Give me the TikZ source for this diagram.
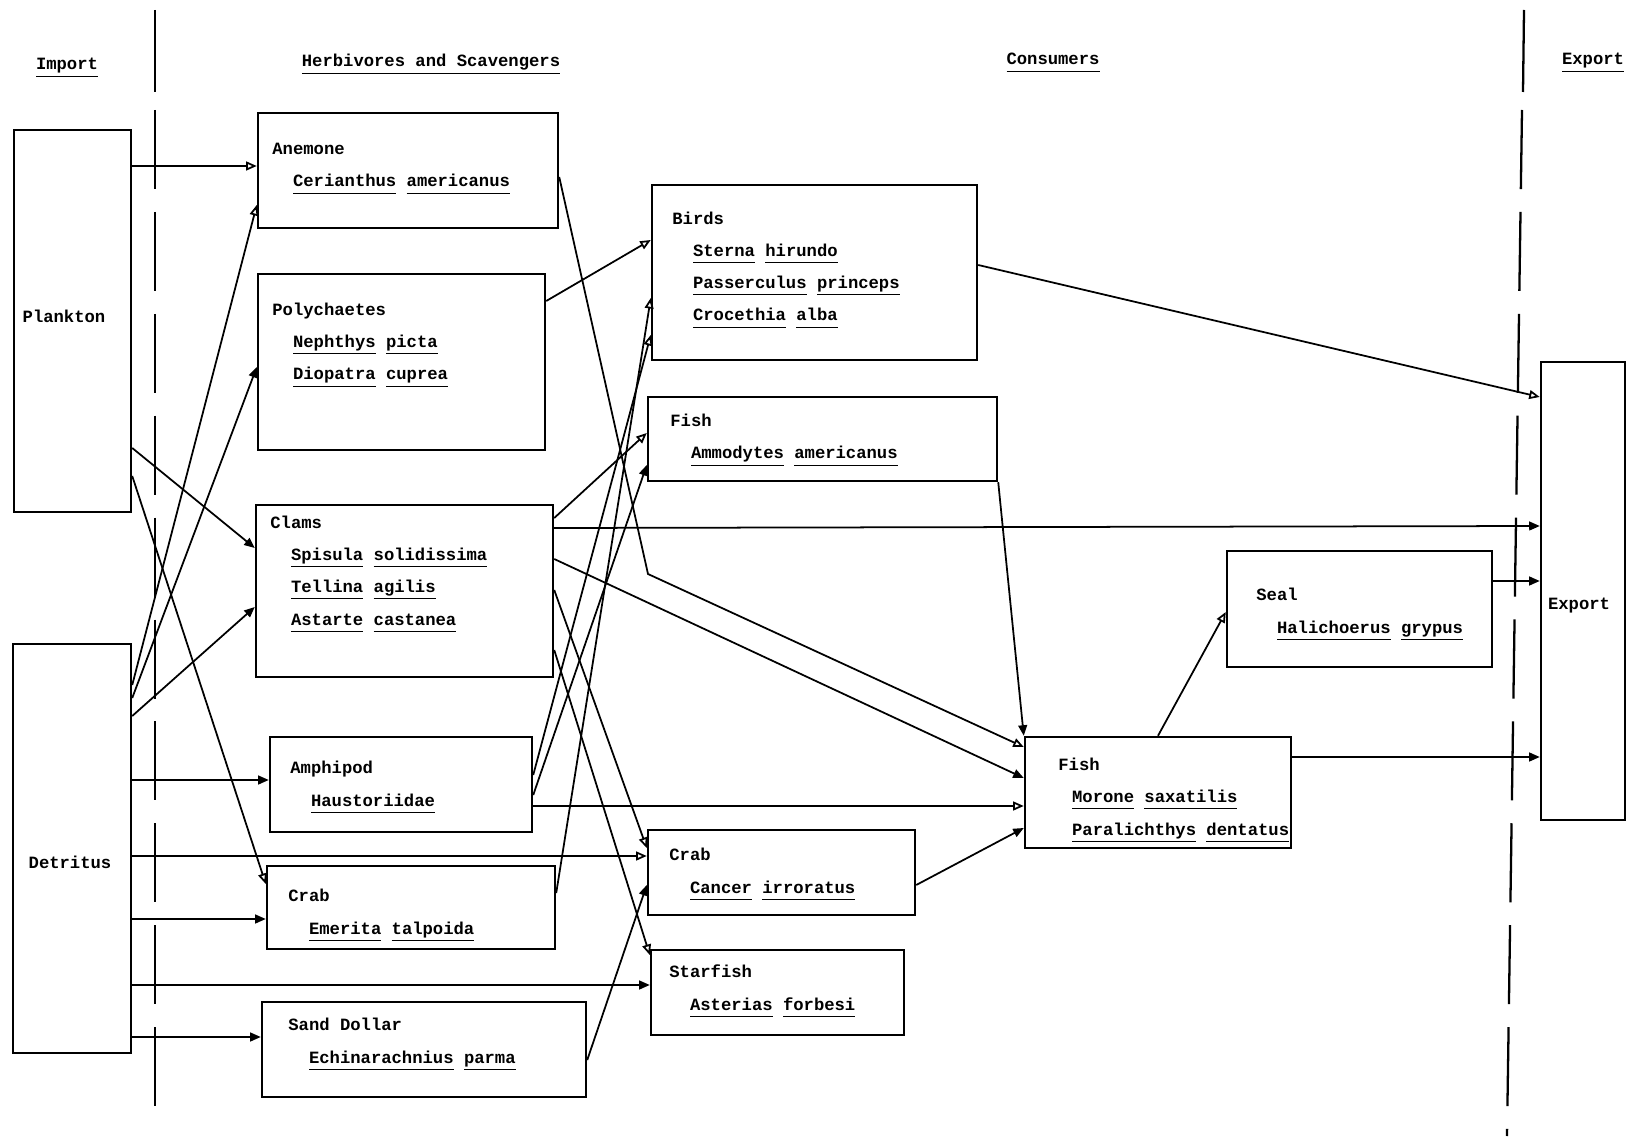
\documentclass[tikz,border=0pt]{standalone}
\usepackage{fontspec}
\setmonofont{Liberation Mono}
\usepackage{tikz}
\usetikzlibrary{arrows.meta}
\usetikzlibrary{fit}

\newcommand{\ulw}[1]{\underline{#1\vphantom{gp}}}
\newcommand{\spname}[2]{\ulw{#1} \ulw{#2}}

\begin{document}
\begin{tikzpicture}[x=0.02cm,y=-0.02cm,
   box/.style={draw,line width=1.4pt,inner sep=0pt},
   lbl/.style={anchor=base west,align=left,inner sep=0pt,font=\fontsize{9.8}{18.4}\selectfont\ttfamily\bfseries},
   head/.style={anchor=base,inner sep=0pt,font=\fontsize{9.8}{18.4}\selectfont\ttfamily\bfseries},
   eat/.style={line width=1pt,-{Triangle[open,length=6pt,width=5pt]}},
   eatf/.style={line width=1pt,-{Triangle[length=6pt,width=5pt]}},
   sep/.style={line width=1.3pt,dash pattern=on 45pt off 13pt}]
   \fill[white] (0,0) rectangle (1627,1138);
   \useasboundingbox (0,0) rectangle (1627,1138);

   % column heads
   \node[head] (hImp) at (67,70) {\ulw{Import}};
   \node[head] (hHerb) at (431,67) {\ulw{Herbivores and Scavengers}};
   \node[head] (hCons) at (1053,65) {\ulw{Consumers}};
   \node[head] (hExp) at (1593,65) {\ulw{Export}};
   \draw[line width=1.3pt] (155,10) -- (155,92);
   \draw[sep] (155,110) -- (155,1128);
   \draw[line width=1.3pt] (1524,10) -- (1523,92);
   \draw[sep] (1522,110) -- (1507,1136);

   % import (base of each label = its last line)
   \node[box,fit={(14,130) (131,512)}] (plank) {};
   \node[head] (plankT) at (64,323) {Plankton};
   \node[box,fit={(13,644) (131,1053)}] (detr) {};
   \node[head] (detrT) at (70,868) {Detritus};

   % herbivores and scavengers
   \node[box,fit={(258,113) (558,228)}] (anem) {};
   \node[lbl] (anemT) at (272,187) {Anemone\\\hspace*{1.2em}\spname{Cerianthus}{americanus}};
   \node[box,fit={(258,274) (545,450)}] (poly) {};
   \node[lbl] (polyT) at (272,380) {Polychaetes\\\hspace*{1.2em}\spname{Nephthys}{picta}\\\hspace*{1.2em}\spname{Diopatra}{cuprea}};
   \node[box,fit={(256,505) (553,677)}] (clam) {};
   \node[lbl] (clamT) at (270,625) {Clams\\\hspace*{1.2em}\spname{Spisula}{solidissima}\\\hspace*{1.2em}\spname{Tellina}{agilis}\\\hspace*{1.2em}\spname{Astarte}{castanea}};
   \node[box,fit={(270,737) (532,832)}] (amph) {};
   \node[lbl] (amphT) at (290,806) {Amphipod\\\hspace*{1.2em}\ulw{Haustoriidae}};
   \node[box,fit={(267,866) (555,949)}] (crabE) {};
   \node[lbl] (crabET) at (288,934) {Crab\\\hspace*{1.2em}\spname{Emerita}{talpoida}};
   \node[box,fit={(262,1002) (586,1097)}] (sand) {};
   \node[lbl] (sandT) at (288,1063) {Sand Dollar\\\hspace*{1.2em}\spname{Echinarachnius}{parma}};

   % consumers
   \node[box,fit={(652,185) (977,360)}] (bird) {};
   \node[lbl] (birdT) at (672,321) {Birds\\\hspace*{1.2em}\spname{Sterna}{hirundo}\\\hspace*{1.2em}\spname{Passerculus}{princeps}\\\hspace*{1.2em}\spname{Crocethia}{alba}};
   \node[box,fit={(648,397) (997,481)}] (fishA) {};
   \node[lbl] (fishAT) at (670,459) {Fish\\\hspace*{1.2em}\spname{Ammodytes}{americanus}};
   \node[box,fit={(648,830) (915,915)}] (crabC) {};
   \node[lbl] (crabCT) at (669,893) {Crab\\\hspace*{1.2em}\spname{Cancer}{irroratus}};
   \node[box,fit={(651,950) (904,1035)}] (star) {};
   \node[lbl] (starT) at (669,1010) {Starfish\\\hspace*{1.2em}\spname{Asterias}{forbesi}};
   \node[box,fit={(1025,737) (1291,848)}] (moro) {};
   \node[lbl] (moroT) at (1058,835) {Fish\\\hspace*{0.8em}\spname{Morone}{saxatilis}\\\hspace*{0.8em}\spname{Paralichthys}{dentatus}};
   \node[box,fit={(1227,551) (1492,667)}] (seal) {};
   \node[lbl] (sealT) at (1256,633) {Seal\\\hspace*{1.2em}\spname{Halichoerus}{grypus}};

   % export
   \node[box,fit={(1541,362) (1625,820)}] (expo) {};
   \node[head] (expoT) at (1579,609) {Export};

   % from import
   \draw[eat] (plank.east |- 0,166) -- (anem.west |- 0,166);
   \draw[eatf] (plank.east |- 0,448) -- (clam.west |- 0,548);
   \draw[eat] (plank.east |- 0,476) -- (crabE.west |- 0,884);
   \draw[eat] (detr.east |- 0,685) -- (anem.west |- 0,205);
   \draw[eatf] (detr.east |- 0,698) -- (poly.west |- 0,367);
   \draw[eatf] (detr.east |- 0,716) -- (clam.west |- 0,607);
   \draw[eatf] (detr.east |- 0,780) -- (amph.west |- 0,780);
   \draw[eat] (detr.east |- 0,856) -- (crabC.west |- 0,856);
   \draw[eatf] (detr.east |- 0,919) -- (crabE.west |- 0,919);
   \draw[eatf] (detr.east |- 0,985) -- (star.west |- 0,985);
   \draw[eatf] (detr.east |- 0,1037) -- (sand.west |- 0,1037);

   % from herbivores and scavengers
   \coordinate (bend) at (648,574);
   \draw[eat] (anem.east |- 0,177) -- (bend) -- (moro.west |- 0,747);
   \draw[eat] (poly.east |- 0,301) -- (bird.west |- 0,240);
   \draw[eat] (clam.east |- 0,518) -- (fishA.west |- 0,433);
   \draw[eatf] (clam.east |- 0,528) -- (expo.west |- 0,526);
   \draw[eatf] (clam.east |- 0,559) -- (moro.west |- 0,778);
   \draw[eat] (clam.east |- 0,590) -- (crabC.west |- 0,848);
   \draw[eat] (clam.east |- 0,650) -- (star.west |- 0,955);
   \draw[eat] (amph.east |- 0,775) -- (bird.west |- 0,335);
   \draw[eatf] (amph.east |- 0,795) -- (fishA.west |- 0,465);
   \draw[eat] (amph.east |- 0,806) -- (moro.west |- 0,806);
   \draw[eat] (crabE.east |- 0,893) -- (bird.west |- 0,298);
   \draw[eatf] (sand.east |- 0,1060) -- (crabC.west |- 0,885);

   % from consumers
   \draw[eatf] (fishA.south east) -- (moro.north west);
   \draw[eatf] (crabC.east |- 0,885) -- (moro.west |- 0,828);
   \draw[eat] (moro.north -| 1158,0) -- (seal.west |- 0,612);
   \draw[eat] (bird.east |- 0,265) -- (expo.west |- 0,397);
   \draw[eatf] (seal.east |- 0,581) -- (expo.west |- 0,581);
   \draw[eatf] (moro.east |- 0,757) -- (expo.west |- 0,757);
\end{tikzpicture}
\end{document}
